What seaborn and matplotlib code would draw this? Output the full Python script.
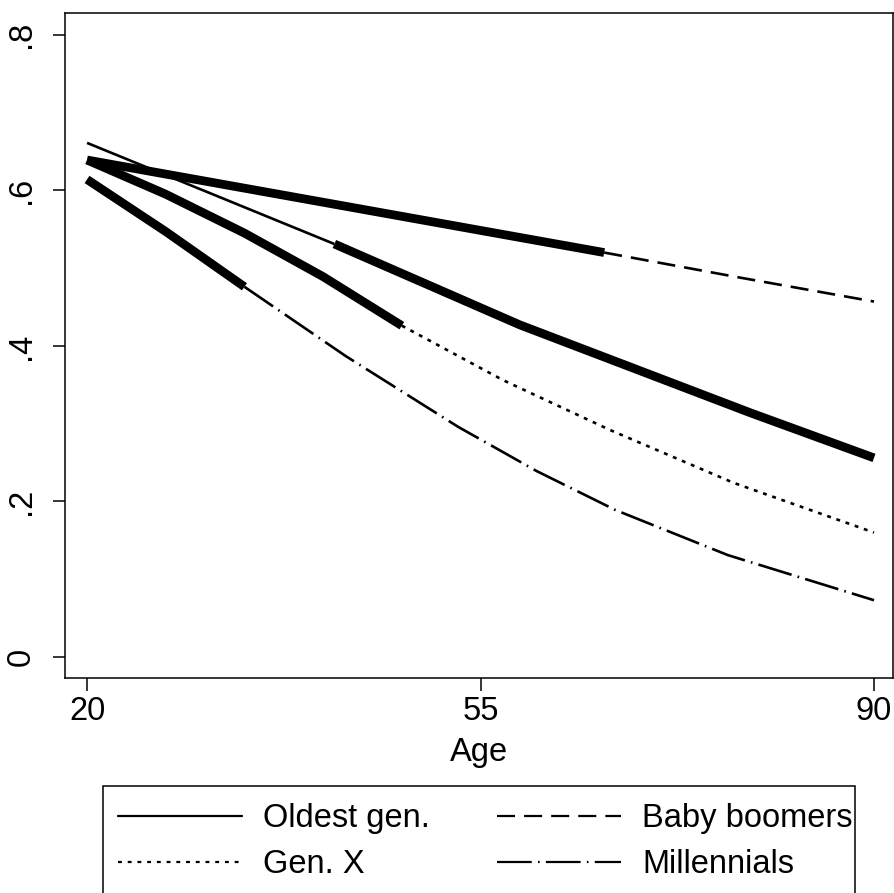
import matplotlib
matplotlib.use("Agg")
import matplotlib.pyplot as plt
from matplotlib.lines import Line2D
from matplotlib.patches import Rectangle
import numpy as np
import pandas as pd
import seaborn as sns

# ---------------- data ----------------
ages_oldest = [20, 42, 58.5, 79, 90]
vals_oldest = [0.661, 0.531, 0.427, 0.314, 0.256]
obs_oldest = (42, 90)            # thick (observed) span

ages_boomers = [20, 66, 78, 90]
vals_boomers = [0.639, 0.520, 0.488, 0.457]
obs_boomers = (20, 66)

ages_genx = [20, 27, 34, 41, 48, 57, 66.5, 77.5, 90]
vals_genx = [0.639, 0.595, 0.545, 0.489, 0.426, 0.356, 0.292, 0.224, 0.160]
obs_genx = (20, 48)

ages_mill = [20, 27, 34, 43, 53, 60, 67, 77, 90]
vals_mill = [0.614, 0.547, 0.476, 0.387, 0.296, 0.239, 0.189, 0.131, 0.073]
obs_mill = (20, 34)

series_names = ["Oldest gen.", "Baby boomers", "Gen. X", "Millennials"]
x_ticks = [20, 55, 90]
y_ticks = [0, 0.2, 0.4, 0.6, 0.8]
y_tick_labels = ["0", ".2", ".4", ".6", ".8"]
x_label = "Age"

# ---------------- style ----------------
sns.set_style("ticks")
plt.rcParams["font.family"] = ["Liberation Sans", "DejaVu Sans"]
plt.rcParams["lines.scale_dashes"] = False
plt.rcParams["text.color"] = "black"
plt.rcParams["axes.labelcolor"] = "black"

styles = {
    "Oldest gen.": "-",
    "Baby boomers": (0, (13, 6.5)),
    "Gen. X": (0, (2.8, 4.2)),
    "Millennials": (0, (25, 4.5, 1.2, 4.5)),
}
series = [
    ("Oldest gen.", ages_oldest, vals_oldest, obs_oldest),
    ("Baby boomers", ages_boomers, vals_boomers, obs_boomers),
    ("Gen. X", ages_genx, vals_genx, obs_genx),
    ("Millennials", ages_mill, vals_mill, obs_mill),
]

fig = plt.figure(figsize=(8.94, 8.93), dpi=100)
ax = fig.add_axes([65 / 894, 1 - 678 / 893, 828 / 894, 665 / 893])

THICK = 6.3
THIN = 1.9

for name, ages, vals, (lo, hi) in series:
    df = pd.DataFrame({"age": ages, "val": vals})
    obs = df[(df.age >= lo) & (df.age <= hi)]
    if lo > df.age.min():
        proj = df[df.age <= lo]
    else:
        proj = df[df.age >= hi]
    ls = styles[name]
    sns.lineplot(data=proj, x="age", y="val", ax=ax, color="black", lw=THIN,
                 linestyle=ls, dash_capstyle="butt", solid_capstyle="butt",
                 sort=True, estimator=None, zorder=2)
    sns.lineplot(data=obs, x="age", y="val", ax=ax, color="black", lw=THICK,
                 solid_capstyle="butt", solid_joinstyle="round",
                 sort=True, estimator=None, zorder=3)

ax.set_xlim(18.04, 91.69)
ax.set_ylim(-0.027, 0.828)
ax.set_xticks(x_ticks)
ax.set_xticklabels([str(t) for t in x_ticks])
ax.set_yticks(y_ticks)
ax.set_yticklabels(y_tick_labels, rotation=90, va="center")
ax.set_xlabel(x_label, fontsize=23.5, labelpad=7, color="black")
ax.set_ylabel("")
for sp in ax.spines.values():
    sp.set_visible(True)
    sp.set_linewidth(1.1)
    sp.set_color("black")
ax.tick_params(axis="both", direction="out", length=9, width=1.1,
               labelsize=23.5, colors="black", labelcolor="black")
ax.tick_params(axis="x", pad=4)
ax.tick_params(axis="y", pad=11)

handles = [Line2D([], [], color="black", lw=1.6, linestyle=styles[n],
                  dash_capstyle="butt") for n in series_names]
order = [0, 2, 1, 3]
leg = fig.legend([handles[i] for i in order], [series_names[i] for i in order],
                 loc="upper left", bbox_to_anchor=(118 / 894, 1 - 803 / 893),
                 bbox_transform=fig.transFigure, ncol=2, frameon=False,
                 fontsize=23.5, handlelength=3.8, handletextpad=0.65,
                 columnspacing=2.05, borderpad=0, labelspacing=0.47,
                 borderaxespad=0, labelcolor="black")

# legend box (runs off the bottom of the figure, as in the reference)
fig.add_artist(Rectangle((103 / 894, -0.1), (855 - 103) / 894, (1 - 786 / 893) + 0.1,
                         transform=fig.transFigure, fill=False,
                         edgecolor="black", lw=1.1))

fig.savefig("out.png", dpi=100)
